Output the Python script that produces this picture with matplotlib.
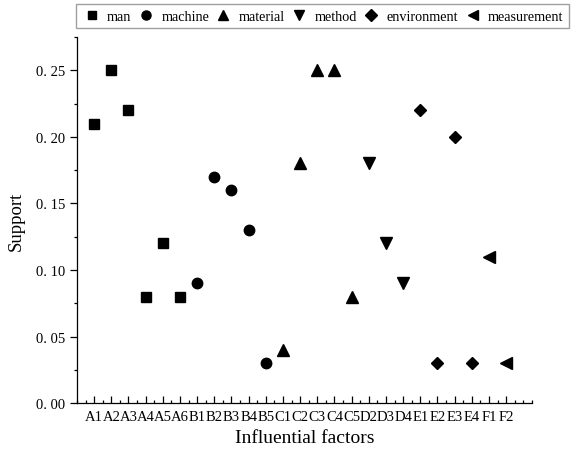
import matplotlib
matplotlib.use("Agg")
import matplotlib.pyplot as plt
import matplotlib.ticker as ticker

# ── Data ──────────────────────────────────────────────────────────────────────

LABELS = ["A1", "A2", "A3", "A4", "A5", "A6",
          "B1", "B2", "B3", "B4", "B5",
          "C1", "C2", "C3", "C4", "C5",
          "D2", "D3", "D4",
          "E1", "E2", "E3", "E4",
          "F1", "F2"]

MAN_X         = ["A1", "A2", "A3", "A4", "A5", "A6"]
MAN_Y         = [0.21, 0.25, 0.22, 0.08, 0.12, 0.08]
MACHINE_X     = ["B1", "B2", "B3", "B4", "B5"]
MACHINE_Y     = [0.09, 0.17, 0.16, 0.13, 0.03]
MATERIAL_X    = ["C1", "C2", "C3", "C4", "C5"]
MATERIAL_Y    = [0.04, 0.18, 0.25, 0.25, 0.08]
METHOD_X      = ["D2", "D3", "D4"]
METHOD_Y      = [0.18, 0.12, 0.09]
ENVIRON_X     = ["E1", "E2", "E3", "E4"]
ENVIRON_Y     = [0.22, 0.03, 0.20, 0.03]
MEASURE_X     = ["F1", "F2"]
MEASURE_Y     = [0.11, 0.03]

SERIES = [
    ("man",         MAN_X,      MAN_Y,      "s", 7.0),
    ("machine",     MACHINE_X,  MACHINE_Y,  "o", 7.5),
    ("material",    MATERIAL_X, MATERIAL_Y, "^", 8.0),
    ("method",      METHOD_X,   METHOD_Y,   "v", 8.0),
    ("environment", ENVIRON_X,  ENVIRON_Y,  "D", 6.5),
    ("measurement", MEASURE_X,  MEASURE_Y,  "<", 8.0),
]

SERIF = ["Liberation Serif", "DejaVu Serif"]

# ── Plot ──────────────────────────────────────────────────────────────────────

fig = plt.figure(figsize=(5.81, 4.52), dpi=100)
ax = fig.add_axes([0.1325, 0.106, 0.783, 0.810])

pos = {lab: i + 1 for i, lab in enumerate(LABELS)}
handles = []
for name, xs, ys, mk, ms in SERIES:
    h, = ax.plot([pos[x] for x in xs], ys, linestyle="none", marker=mk,
                 markersize=ms, color="black", label=name)
    handles.append(h)

ax.set_xlim(0, 26.5)
ax.set_ylim(0, 0.275)

ax.set_xticks(range(1, len(LABELS) + 1))
ax.set_xticklabels(LABELS, family=SERIF, fontsize=10.5)
ax.xaxis.set_minor_locator(ticker.MultipleLocator(0.5))
ax.yaxis.set_major_locator(ticker.MultipleLocator(0.05))
ax.yaxis.set_minor_locator(ticker.MultipleLocator(0.025))
ax.yaxis.set_major_formatter(ticker.FuncFormatter(lambda v, p: f"{v:.2f}".replace(".", ". ")))

ax.tick_params(axis="x", which="major", direction="in", length=5, width=0.9, pad=5)
ax.tick_params(axis="x", which="minor", direction="in", length=2.5, width=0.9)
ax.tick_params(axis="y", which="major", direction="out", length=5, width=0.9, labelsize=10.5)
ax.tick_params(axis="y", which="minor", direction="out", length=2.5, width=0.9)
for t in ax.get_yticklabels():
    t.set_family(SERIF)

ax.spines["top"].set_visible(False)
ax.spines["right"].set_visible(False)
ax.spines["left"].set_linewidth(0.9)
ax.spines["bottom"].set_linewidth(0.9)

ax.set_xlabel("Influential factors", family=SERIF, fontsize=14, labelpad=4)
ax.set_ylabel("Support", family=SERIF, fontsize=13.5, labelpad=8)

leg = fig.legend(handles=handles, loc="upper left", bbox_to_anchor=(0.13, 0.988),
                 ncol=6, frameon=True, fancybox=False, prop={"family": SERIF, "size": 10.2},
                 handlelength=1.5, handletextpad=0.35, columnspacing=0.25,
                 borderpad=0.38, borderaxespad=0.0, markerscale=0.87)
leg.get_frame().set_edgecolor("#888888")
leg.get_frame().set_linewidth(1.0)

fig.savefig("out.png", dpi=100, facecolor="white")
